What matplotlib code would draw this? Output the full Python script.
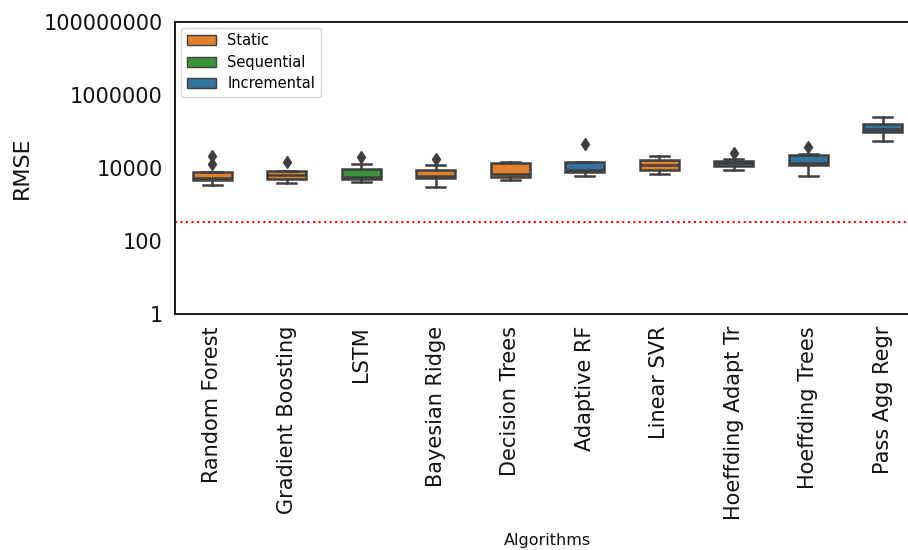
import matplotlib
matplotlib.use("Agg")
import matplotlib.pyplot as plt
import matplotlib.patches as mpatches
from matplotlib.ticker import FixedLocator, FixedFormatter

# per-algorithm RMSE distributions (box summaries)
algorithms = ["Random Forest", "Gradient Boosting", "LSTM", "Bayesian Ridge",
              "Decision Trees", "Adaptive RF", "Linear SVR", "Hoeffding Adapt Tr",
              "Hoeffding Trees", "Pass Agg Regr"]
kinds = ["Static", "Static", "Sequential", "Static", "Static",
         "Incremental", "Static", "Incremental", "Incremental", "Incremental"]
q1 = [4550, 4750, 4750, 5260, 5600, 7390, 8550, 11000, 11700, 92000]
med = [5320, 6110, 5600, 5960, 6510, 8700, 11900, 13000, 13500, 116000]
q3 = [7670, 8170, 9100, 8550, 13000, 13900, 16000, 15100, 21600, 155000]
whislo = [3250, 3690, 4080, 2870, 4550, 5850, 6760, 8380, 5740, 52200]
whishi = [7670, 8170, 12200, 11700, 14400, 14400, 21000, 17100, 23000, 237000]
fliers = [[12200, 20600], [13900], [19800], [16800], [], [44000], [], [24500], [37100], []]
baseline = 330

kind_colors = {"Static": "#e1812c", "Sequential": "#3a923a", "Incremental": "#3274a1"}
line_col = "#3f3f3f"
text_col = "#111111"

stats = []
for i, name in enumerate(algorithms):
    stats.append(dict(label=name, q1=q1[i], med=med[i], q3=q3[i],
                      whislo=whislo[i], whishi=whishi[i], fliers=fliers[i]))

fig = plt.figure(figsize=(9.08, 5.5), dpi=100)
ax = fig.add_axes([175 / 908, 1 - 313.5 / 550, 745 / 908, 291.8 / 550])

lp = dict(color=line_col, linewidth=1.8)
bp = ax.bxp(stats, positions=range(len(algorithms)), widths=0.52, patch_artist=True,
            boxprops=dict(edgecolor=line_col, linewidth=1.8),
            medianprops=lp, whiskerprops=lp, capprops=lp,
            flierprops=dict(marker="d", markerfacecolor=line_col, markeredgecolor=line_col,
                            markersize=6))
for box, k in zip(bp["boxes"], kinds):
    box.set_facecolor(kind_colors[k])

ax.axhline(baseline, color="red", linestyle=":", linewidth=1.5)

ax.set_yscale("log")
ax.set_ylim(1, 1e8)
ax.set_xlim(-0.5, len(algorithms) - 0.5)
yt = [1, 100, 1e4, 1e6, 1e8]
ax.yaxis.set_major_locator(FixedLocator(yt))
ax.yaxis.set_major_formatter(FixedFormatter(["1", "100", "10000", "1000000", "100000000"]))
ax.yaxis.set_minor_locator(FixedLocator([]))
ax.set_xticks(range(len(algorithms)))
ax.set_xticklabels(algorithms, rotation=90)
ax.tick_params(axis="both", length=0, labelsize=15, pad=9, colors=text_col)

ax.set_ylabel("RMSE", fontsize=16, color=text_col, labelpad=8)
ax.set_xlabel("Algorithms", fontsize=11.5, color=text_col, labelpad=9)

for s in ["left", "top", "bottom"]:
    ax.spines[s].set_color("#1a1a1a")
    ax.spines[s].set_linewidth(1.4)
ax.spines["right"].set_visible(False)

handles = [mpatches.Patch(facecolor=kind_colors[k], edgecolor=line_col, label=k)
           for k in ["Static", "Sequential", "Incremental"]]
ax.legend(handles=handles, loc="upper left", fontsize=10.5, frameon=True,
          edgecolor="#cccccc", borderaxespad=0.4, labelspacing=0.45)

fig.savefig("out.png", dpi=100)
